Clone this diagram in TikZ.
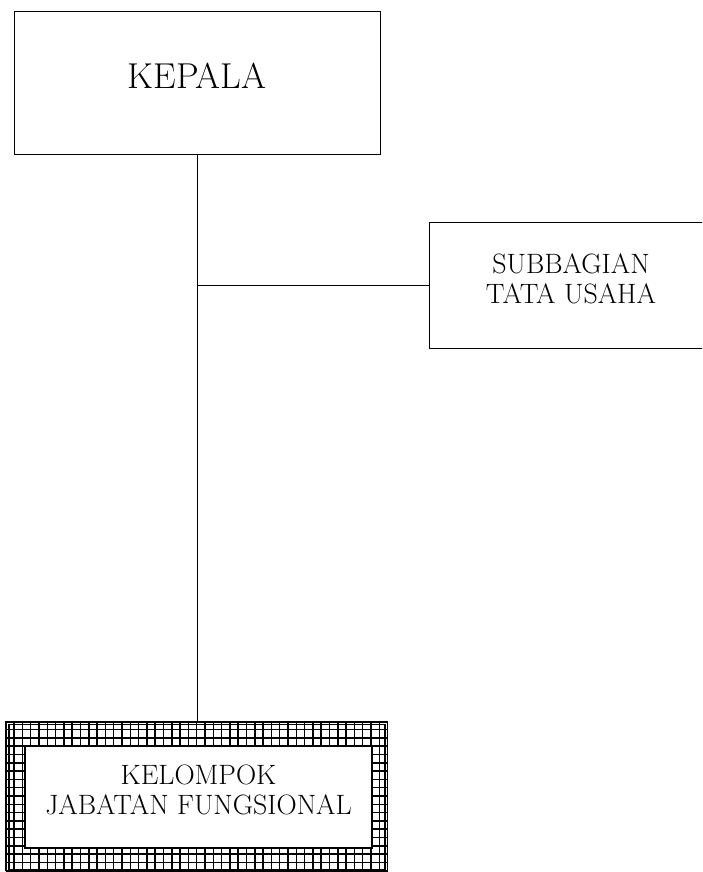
\documentclass[tikz,border=0pt]{standalone}
\usepackage{tikz}
\usetikzlibrary{positioning, calc}
\tikzset{
  unit/.style    = {draw, line width=1pt, align=center, inner sep=0pt},
  bigtext/.style = {font=\fontsize{36}{40}\selectfont},
  midtext/.style = {font=\fontsize{28}{30}\selectfont},
  gridline/.style= {line width=1.5pt},
  link/.style    = {line width=1pt}
}

\begin{document}
\begin{tikzpicture}[x=1pt, y=-1pt]
  \useasboundingbox (0,0) rectangle (702,872);
  \clip (0,0) rectangle (702,872);
  % boxes
  \node[unit, bigtext, text depth=14pt, minimum width=366pt, minimum height=142pt] (kepala) at (197,83) {KEPALA};
  \node[unit, midtext, text depth=12pt, minimum width=284pt, minimum height=126pt] (subbag) at (571,285) {SUBBAGIAN\\TATA USAHA};
  \node[draw, line width=1.4pt, minimum width=381pt, minimum height=150pt, inner sep=0pt] (frame) at (197,797) {};
  \draw[gridline, shift={(frame.north west)}] (0,0) grid[step=8.3pt] (381,150);
  \draw[line width=1.6pt] ($(frame.north west)+(3,3)$) rectangle ($(frame.south east)+(-3,-3)$);
  \node[unit, fill=white, midtext, text depth=14pt, line width=1.3pt, minimum width=347pt, minimum height=102pt] (kelompok) at (198.5,797) {KELOMPOK\\JABATAN FUNGSIONAL};
  % connectors
  \coordinate (tap) at (kepala.south |- subbag.west);
  \draw[link] (kepala.south) -- (frame.north);
  \draw[link] (tap) -- (subbag.west);
\end{tikzpicture}
\end{document}
